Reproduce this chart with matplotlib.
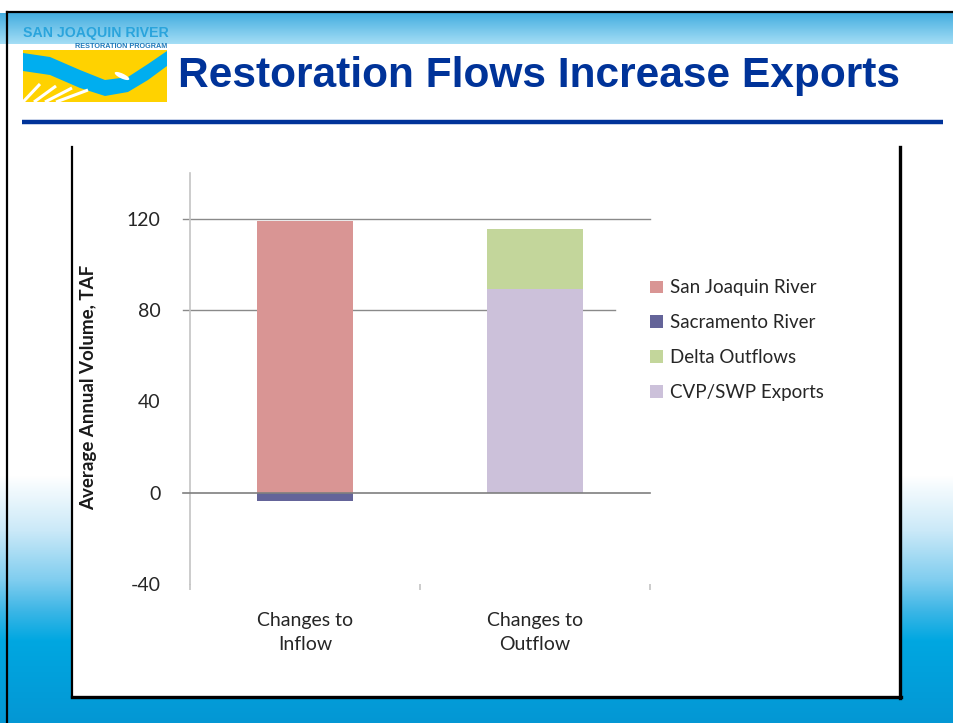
"""Restoration flows slide: stacked bar of inflow / outflow changes"""
import numpy as np
import matplotlib.pyplot as plt
from matplotlib.patches import Rectangle, Ellipse, Polygon
from matplotlib.colors import to_rgb

plt.rcParams['font.family'] = ['Lato', 'DejaVu Sans']
plt.rcParams['axes.unicode_minus'] = False

# chart data (TAF)
categories = ["Changes to\nInflow", "Changes to\nOutflow"]
san_joaquin = [119, 0]
sacramento = [-3.5, 0]
delta_outflows = [0, 26.5]
cvp_swp = [0, 89]
y_ticks = [-40, 0, 40, 80, 120]

W, H = 954, 723
fig = plt.figure(figsize=(W / 100, H / 100), dpi=100)

# slide background, drawn in pixel coords
bg = fig.add_axes([0, 0, 1, 1])
bg.axis('off')
stops = [(0, '#ffffff'), (12, '#ffffff'), (13, '#45aee0'), (43, '#a3ddf5'),
         (44, '#ffffff'), (475, '#ffffff'), (530, '#cbe9f8'), (580, '#7fcdef'),
         (610, '#3db6e6'), (640, '#00a7e1'), (723, '#0497d4')]
rows = np.arange(H)
pos = [s[0] for s in stops]
cols = np.array([to_rgb(s[1]) for s in stops])
grad = np.stack([np.interp(rows, pos, cols[:, i]) for i in range(3)], axis=1)
bg.imshow(grad[:, None, :], aspect='auto', extent=[0, W, H, 0], origin='upper')
bg.set_xlim(0, W)
bg.set_ylim(H, 0)

# slide border
bg.plot([7, 7], [12, H], color='black', lw=1.6)
bg.plot([7, W], [12, 12], color='black', lw=1.6)

# logo
bg.text(23, 37, "SAN JOAQUIN RIVER", family='Liberation Sans', weight='bold',
        fontsize=10.2, color='#2aa4dc', va='baseline')
bg.text(167, 48, "RESTORATION PROGRAM", family='Liberation Sans', weight='bold',
        fontsize=5.2, color='#1f78b8', ha='right', va='baseline')
bg.add_patch(Rectangle((23, 50), 144, 52, fc='#ffd200', ec='none'))
river_top = [(23, 53), (50, 57), (80, 70), (105, 80), (128, 77), (148, 64), (167, 51)]
river_bot = [(167, 66), (148, 80), (128, 92), (105, 96), (80, 88), (50, 75), (23, 71)]
bg.add_patch(Polygon(river_top + river_bot, closed=True, fc='#00aeef', ec='none'))
for k in range(4):
    bg.plot([23 + 11 * k, 40 + 16 * k], [102, 84 + 2 * k], color='white', lw=2.2,
            solid_capstyle='butt')
bg.add_patch(Ellipse((122, 76), 16, 5, angle=25, fc='white', ec='none'))

# title and rule
bg.text(178, 87, "Restoration Flows Increase Exports", family='Liberation Sans',
        weight='bold', fontsize=30.6, color='#003399', va='baseline')
bg.plot([22, 943], [122, 122], color='#003399', lw=3.2, solid_capstyle='butt')

# chart box
bg.add_patch(Rectangle((72, 147), 828, 550, fc='white', ec='none'))
bg.plot([72, 72], [147, 697], color='black', lw=1.6)
bg.plot([72, 901], [697, 697], color='black', lw=2.4)
bg.plot([900, 900], [147, 698], color='black', lw=2.4)

# chart
ax = fig.add_axes([190 / W, 1 - 584 / H, 460 / W, 411 / H])
ax.patch.set_alpha(0)
x = np.arange(len(categories))
bw = 0.42
ax.bar(x, san_joaquin, bw, color='#d99594', label='San Joaquin River', zorder=2)
ax.bar(x, sacramento, bw, color='#646499', label='Sacramento River', zorder=2)
ax.bar(x, delta_outflows, bw, bottom=cvp_swp, color='#c3d69b',
       label='Delta Outflows', zorder=2)
ax.bar(x, cvp_swp, bw, color='#ccc1da', label='CVP/SWP Exports', zorder=2)

ax.set_xlim(-0.5, 1.5)
ax.set_ylim(-40, 140)
ax.axhline(120, xmin=-0.015, xmax=1.0, color='#8a8a8a', lw=1.0, clip_on=False, zorder=1)
ax.axhline(80, xmin=-0.015, xmax=0.924, color='#8a8a8a', lw=1.0, clip_on=False, zorder=1)
ax.axhline(0, xmin=-0.015, xmax=1.0, color='#7f7f7f', lw=1.2, clip_on=False, zorder=3)

for s in ['top', 'right', 'bottom']:
    ax.spines[s].set_visible(False)
ax.spines['left'].set_color('#c4c4c4')
ax.spines['left'].set_linewidth(1.2)

ax.set_yticks(y_ticks)
ax.set_xticks(x)
ax.set_xticklabels(categories, linespacing=1.55)
ax.set_xticks([-0.5, 0.5, 1.5], minor=True)
ax.tick_params(axis='y', length=0, pad=21, labelsize=14, labelcolor='#262626')
ax.tick_params(axis='x', which='major', length=0, pad=20, labelsize=14,
               labelcolor='#262626')
ax.tick_params(axis='x', which='minor', length=4.5, width=1.2, color='#c4c4c4')
ax.set_ylabel("Average Annual Volume, TAF", fontsize=13.5, weight='bold',
              color='#1a1a1a')
ax.yaxis.set_label_coords(-0.202, 0.479)

ax.legend(loc='upper left', bbox_to_anchor=(643, 272), bbox_transform=bg.transData,
          fontsize=13.5, frameon=False, handlelength=0.65, handleheight=0.65,
          handletextpad=0.4, labelspacing=0.95, borderaxespad=0, borderpad=0.4,
          labelcolor='#262626')

fig.savefig('out.png', dpi=100)
